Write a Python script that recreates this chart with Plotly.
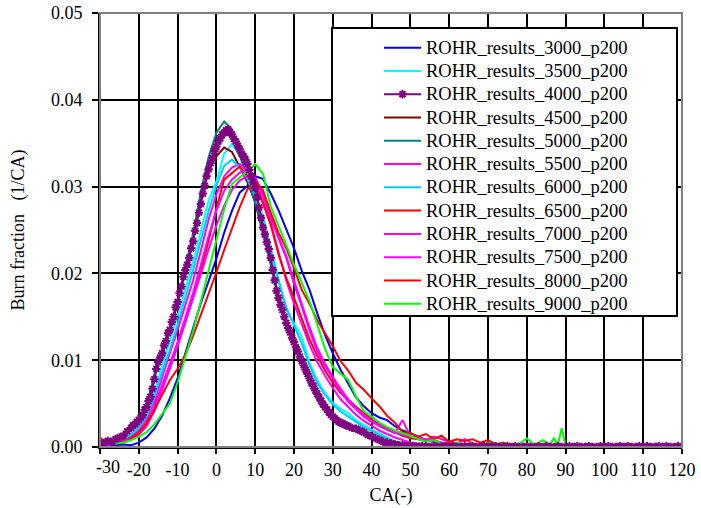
import plotly.graph_objects as go

# Shared crank-angle grid for most series (main region + tail)
CA = [-30, -28, -26, -24, -22, -20, -18, -16, -14, -12, -10, -8, -6, -4, -2,
      0, 2, 4, 6, 8, 10, 12, 14, 16, 18, 20, 22, 24, 26, 28, 30, 32, 34, 36,
      38, 40, 42, 44, 46, 48, 50, 52, 54, 56, 58, 60, 62, 64, 66, 68, 70,
      72, 74, 76, 78, 80, 82, 84, 86, 87, 88, 89, 90, 100, 110, 120]

TAIL0 = [0.0001, 0, 0, 0, 0, 0, 0, 0, 0, 0, 0, 0, 0, 0, 0]

r3000 = [0.0002, 0.0003, 0.0002, 0.0003, 0.0002, 0.0005, 0.0011, 0.0021, 0.0036, 0.0056,
         0.0079, 0.0108, 0.0139, 0.0166, 0.0191, 0.0217, 0.0247, 0.0272, 0.0293, 0.0301,
         0.0312, 0.0309, 0.0292, 0.0273, 0.0251, 0.0229, 0.0203, 0.0181, 0.0154, 0.0129,
         0.0108, 0.0089, 0.0073, 0.0057, 0.0047, 0.0039, 0.0034, 0.0031, 0.0024, 0.0019,
         0.0016, 0.0012, 0.0008, 0.0006, 0.0004, 0.0003, 0.0002, 0.0002, 0.0001, 0.0001,
         0.0001] + TAIL0
r3500 = [0.0003, 0.0004, 0.0006, 0.0010, 0.0015, 0.0024, 0.0038, 0.0063, 0.0093, 0.0121,
         0.0151, 0.0182, 0.0213, 0.0249, 0.0284, 0.0306, 0.0338, 0.0349, 0.0336, 0.0318,
         0.0294, 0.0266, 0.0231, 0.0194, 0.0158, 0.0143, 0.0127, 0.0097, 0.0077, 0.0062,
         0.0051, 0.0044, 0.0039, 0.0031, 0.0025, 0.0020, 0.0016, 0.0011, 0.0007, 0.0004,
         0.0003, 0.0002, 0.0002, 0.0001, 0.0001, 0.0001, 0.0001, 0.0, 0.0001, 0.0, 0.0] + TAIL0
r4500 = [0.0004, 0.0006, 0.0009, 0.0013, 0.0020, 0.0029, 0.0044, 0.0082, 0.0106, 0.0134,
         0.0166, 0.0203, 0.0242, 0.0287, 0.0320, 0.0335, 0.0345, 0.0340, 0.0322, 0.0305,
         0.0282, 0.0250, 0.0215, 0.0172, 0.0145, 0.0122, 0.0099, 0.0079, 0.0061, 0.0047,
         0.0036, 0.0029, 0.0024, 0.0020, 0.0016, 0.0012, 0.0008, 0.0005, 0.0003, 0.0002,
         0.0001, 0.0001, 0.0, 0.0, 0.0, 0.0, 0.0, 0.0, 0.0, 0.0, 0.0] + TAIL0
r5000 = [0.0004, 0.0006, 0.0009, 0.0014, 0.0021, 0.0030, 0.0045, 0.0084, 0.0108, 0.0137,
         0.0169, 0.0207, 0.0246, 0.0294, 0.0334, 0.0362, 0.0375, 0.0366, 0.0336, 0.0310,
         0.0281, 0.0246, 0.0210, 0.0168, 0.0140, 0.0118, 0.0096, 0.0076, 0.0058, 0.0045,
         0.0034, 0.0027, 0.0022, 0.0018, 0.0014, 0.0010, 0.0007, 0.0004, 0.0003, 0.0002,
         0.0001, 0.0001, 0.0, 0.0, 0.0, 0.0, 0.0, 0.0, 0.0, 0.0, 0.0] + TAIL0
r5500 = [0.0003, 0.0004, 0.0005, 0.0008, 0.0012, 0.0020, 0.0032, 0.0052, 0.0081, 0.0108,
         0.0135, 0.0163, 0.0192, 0.0226, 0.0262, 0.0291, 0.0312, 0.0322, 0.0326, 0.0318,
         0.0305, 0.0282, 0.0258, 0.0225, 0.0192, 0.0165, 0.0142, 0.0118, 0.0098, 0.0082,
         0.0068, 0.0055, 0.0046, 0.0037, 0.0030, 0.0024, 0.0019, 0.0015, 0.0011, 0.0008,
         0.0005, 0.0004, 0.0003, 0.0002, 0.0002, 0.0001, 0.0001, 0.0, 0.0, 0.0, 0.0] + TAIL0
r6000 = [0.0003, 0.0004, 0.0006, 0.0009, 0.0014, 0.0022, 0.0035, 0.0057, 0.0086, 0.0112,
         0.0141, 0.0172, 0.0204, 0.0238, 0.0272, 0.0301, 0.0324, 0.0331, 0.0322, 0.0309,
         0.0289, 0.0262, 0.0226, 0.0191, 0.0161, 0.0139, 0.0119, 0.0094, 0.0074, 0.0060,
         0.0049, 0.0041, 0.0035, 0.0029, 0.0023, 0.0019, 0.0014, 0.0010, 0.0006, 0.0004,
         0.0003, 0.0002, 0.0001, 0.0001, 0.0, 0.0, 0.0, 0.0, 0.0, 0.0, 0.0] + TAIL0
r6500 = [0.0011, 0.0004, 0.0005, 0.0007, 0.0011, 0.0017, 0.0028, 0.0046, 0.0071, 0.0094,
         0.0118, 0.0144, 0.0172, 0.0202, 0.0238, 0.0275, 0.0308, 0.0316, 0.0323, 0.0312,
         0.0301, 0.0281, 0.0256, 0.0222, 0.0195, 0.0172, 0.0148, 0.0124, 0.0105, 0.0088,
         0.0074, 0.0062, 0.0054, 0.0046, 0.0039, 0.0032, 0.0026, 0.0022, 0.0017, 0.0013,
         0.0010, 0.0009, 0.0007, 0.0008, 0.0005, 0.0004, 0.0003, 0.0002, 0.0002, 0.0001,
         0.0001] + TAIL0
r7000 = [0.0002, 0.0003, 0.0004, 0.0007, 0.0010, 0.0016, 0.0027, 0.0045, 0.0070, 0.0095,
         0.0121, 0.0149, 0.0178, 0.0210, 0.0243, 0.0272, 0.0295, 0.0308, 0.0316, 0.0319,
         0.0311, 0.0291, 0.0265, 0.0241, 0.0218, 0.0188, 0.0162, 0.0134, 0.0110, 0.0093,
         0.0079, 0.0064, 0.0052, 0.0043, 0.0035, 0.0029, 0.0024, 0.0020, 0.0016, 0.0031,
         0.0012, 0.0011, 0.0008, 0.0012, 0.0009, 0.0006, 0.0004, 0.0009, 0.0004, 0.0002,
         0.0001] + TAIL0
r7500 = [0.0002, 0.0003, 0.0004, 0.0006, 0.0009, 0.0014, 0.0024, 0.0041, 0.0065, 0.0090,
         0.0116, 0.0143, 0.0170, 0.0199, 0.0228, 0.0255, 0.0278, 0.0296, 0.0307, 0.0312,
         0.0306, 0.0289, 0.0263, 0.0242, 0.0220, 0.0192, 0.0165, 0.0138, 0.0114, 0.0096,
         0.0081, 0.0067, 0.0055, 0.0045, 0.0037, 0.0030, 0.0025, 0.0020, 0.0017, 0.0014,
         0.0012, 0.0010, 0.0009, 0.0007, 0.0005, 0.0004, 0.0003, 0.0002, 0.0002, 0.0001,
         0.0001] + TAIL0
r8000 = [0.0004, 0.0005, 0.0004, 0.0005, 0.0009, 0.0016, 0.0027, 0.0042, 0.0060, 0.0077,
         0.0090, 0.0106, 0.0128, 0.0152, 0.0177, 0.0201, 0.0227, 0.0251, 0.0276, 0.0297,
         0.0306, 0.0296, 0.0270, 0.0247, 0.0229, 0.0206, 0.0181, 0.0165, 0.0146, 0.0131,
         0.0116, 0.0099, 0.0088, 0.0074, 0.0066, 0.0056, 0.0047, 0.0036, 0.0028, 0.0017,
         0.0016, 0.0012, 0.0015, 0.0009, 0.0013, 0.0006, 0.0009, 0.0007, 0.0009, 0.0005,
         0.0008,
         0.0003, 0.0005, 0.0001, 0.0, 0.0, 0.0, 0.0, 0.0, 0.0, 0.0, 0.0, 0.0, 0.0, 0.0, 0.0]
r9000 = [0.0005, 0.0006, 0.0004, 0.0005, 0.0008, 0.0012, 0.0017, 0.0026, 0.0038, 0.0050,
         0.0074, 0.0103, 0.0134, 0.0168, 0.0204, 0.0240, 0.0274, 0.0303, 0.0310, 0.0318,
         0.0326, 0.0315, 0.0277, 0.0256, 0.0233, 0.0210, 0.0190, 0.0168, 0.0141, 0.0113,
         0.0092, 0.0085, 0.0077, 0.0058, 0.0041, 0.0035, 0.0028, 0.0023, 0.0019, 0.0016,
         0.0013, 0.0009, 0.0006, 0.0008, 0.0004, 0.0003, 0.0005, 0.0003, 0.0004, 0.0002,
         0.0005,
         0.0002, 0.0004, 0.0002, 0.0003, 0.0010, 0.0002, 0.0008, 0.0003, 0.0010, 0.0002,
         0.0022, 0.0001, 0.0, 0.0, 0.0]

# 4000 rpm series (marker series) is sampled more densely:
# step 1 for -30..-23, step 0.5 for -22..34, step 1 for 35..120
CA_4000 = (list(range(-30, -22))
           + [h / 2 for h in range(-44, 69)]
           + list(range(35, 121)))
r4000 = [0.0005, 0.0004, 0.0007, 0.0006, 0.0009, 0.0011, 0.0013, 0.0018,
         0.0022, 0.0025, 0.0026, 0.0029, 0.0031, 0.0034, 0.0037, 0.0043, 0.0046, 0.0053,
         0.0058, 0.0067, 0.0078, 0.0090, 0.0098, 0.0103, 0.0108, 0.0117, 0.0122, 0.0131,
         0.0135, 0.0144, 0.0150, 0.0161, 0.0167, 0.0177, 0.0185, 0.0196, 0.0204, 0.0210,
         0.0218, 0.0229, 0.0237, 0.0249, 0.0258, 0.0270, 0.0280, 0.0292, 0.0301, 0.0312,
         0.0320, 0.0327, 0.0333, 0.0341, 0.0346, 0.0352, 0.0356, 0.0360, 0.0362, 0.0365,
         0.0366, 0.0362, 0.0360, 0.0355, 0.0352, 0.0347, 0.0343, 0.0338, 0.0335, 0.0331,
         0.0326, 0.0319, 0.0312, 0.0305, 0.0298, 0.0288, 0.0276, 0.0264, 0.0253, 0.0245,
         0.0236, 0.0228, 0.0218, 0.0204, 0.0192, 0.0180, 0.0172, 0.0164, 0.0158, 0.0150,
         0.0143, 0.0137, 0.0132, 0.0126, 0.0121, 0.0115, 0.0110, 0.0104, 0.0099, 0.0094,
         0.0089, 0.0084, 0.0079, 0.0074, 0.0070, 0.0065, 0.0061, 0.0057, 0.0053, 0.0049,
         0.0046, 0.0043, 0.0040, 0.0037, 0.0035, 0.0033, 0.0031, 0.0029, 0.0028, 0.0027,
         0.0026, 0.0025, 0.0024,
         0.0022, 0.0021, 0.0019, 0.0017, 0.0014, 0.0012, 0.0010, 0.0008, 0.0006, 0.0005,
         0.0004, 0.0003, 0.0002, 0.0002, 0.0001,
         0.0001, 0.0001, 0.0, 0.0001, 0.0001, 0.0, 0.0001, 0.0, 0.0001, 0.0001,
         0.0, 0.0001, 0.0, 0.0, 0.0001, 0.0, 0.0001, 0.0, 0.0, 0.0001,
         0.0, 0.0001, 0.0001, 0.0, 0.0, 0.0001, 0.0, 0.0001, 0.0, 0.0,
         0.0001, 0.0, 0.0, 0.0001, 0.0, 0.0001, 0.0, 0.0, 0.0001, 0.0,
         0.0, 0.0001, 0.0, 0.0001, 0.0, 0.0, 0.0001, 0.0, 0.0, 0.0001,
         0.0, 0.0001, 0.0, 0.0, 0.0001, 0.0, 0.0001, 0.0, 0.0, 0.0001,
         0.0, 0.0001, 0.0, 0.0, 0.0001, 0.0, 0.0001, 0.0, 0.0, 0.0001, 0.0]

NAMES = ["ROHR_results_3000_p200", "ROHR_results_3500_p200", "ROHR_results_4000_p200",
         "ROHR_results_4500_p200", "ROHR_results_5000_p200", "ROHR_results_5500_p200",
         "ROHR_results_6000_p200", "ROHR_results_6500_p200", "ROHR_results_7000_p200",
         "ROHR_results_7500_p200", "ROHR_results_8000_p200", "ROHR_results_9000_p200"]
SERIES = [r3000, r3500, r4000, r4500, r5000, r5500, r6000, r6500, r7000, r7500, r8000, r9000]
COLORS = ["#0000FF", "#00FFFF", "#800080", "#800000", "#008080", "#FF00FF",
          "#00CCFF", "#FF0000", "#FF00FF", "#FF00FF", "#FF0000", "#00FF00"]

X_TICKS = [-30, -20, -10, 0, 10, 20, 30, 40, 50, 60, 70, 80, 90, 100, 110, 120]
Y_TICKS = [0.0, 0.01, 0.02, 0.03, 0.04, 0.05]

FONT = "Liberation Serif"

fig = go.Figure()
order = [i for i in range(12) if i != 2] + [2]
for i in order:
    label = '<span style="font-size:18.5px">' + NAMES[i] + '</span>'
    if i == 2:
        fig.add_trace(go.Scatter(
            x=CA_4000, y=SERIES[i], name=label, mode="lines+markers",
            line=dict(color=COLORS[i], width=2),
            marker=dict(symbol="asterisk-open", size=7,
                        line=dict(color=COLORS[i], width=2)),
            legendrank=i * 10))
    else:
        fig.add_trace(go.Scatter(
            x=CA, y=SERIES[i], name=label, mode="lines",
            line=dict(color=COLORS[i], width=2),
            legendrank=i * 10))

# body margin is removed by a post script, so the figure fills the window
L, R, T, B = 100, 19, 13, 61
W, H = 701, 508
pw, ph = W - L - R, H - T - B

def px_x(p):   # window pixel -> paper x
    return (p - L) / pw

def px_y(p):   # window pixel -> paper y
    return 1 - (p - T) / ph

# legend frame
fig.add_shape(type="rect", xref="paper", yref="paper",
              x0=px_x(332), x1=px_x(677), y0=px_y(316), y1=px_y(28),
              fillcolor="white", line=dict(color="black", width=2), layer="above")
# gray plot-area border (top / right)
fig.add_shape(type="rect", xref="paper", yref="paper", x0=0, x1=1, y0=0, y1=1,
              fillcolor="rgba(0,0,0,0)", line=dict(color="#808080", width=2), layer="above")

# the first x tick label sits slightly right of its tick
fig.add_annotation(x=-30, y=0, xref="x", yref="paper", text="-30", showarrow=False,
                   xanchor="center", yanchor="top", xshift=8, yshift=-8,
                   font=dict(family=FONT, size=18, color="black"))

fig.update_layout(
    width=W, height=H,
    margin=dict(l=L, r=R, t=T, b=B, autoexpand=False),
    paper_bgcolor="white", plot_bgcolor="white",
    font=dict(family=FONT, size=18, color="black"),
    showlegend=True,
    legend=dict(x=px_x(379), y=px_y(31), xanchor="left", yanchor="top",
                bgcolor="rgba(0,0,0,0)", borderwidth=0, itemwidth=37,
                font=dict(family=FONT, size=15.6, color="black"),
                tracegroupgap=0),
    xaxis=dict(range=[-30, 120], tickvals=X_TICKS,
               ticktext=["" if v == -30 else str(v) for v in X_TICKS],
               showgrid=True, gridcolor="black", gridwidth=2,
               showline=True, linecolor="black", linewidth=2,
               ticks="outside", ticklen=5, tickcolor="black", tickwidth=2,
               zeroline=False, automargin=False, ticklabeloverflow="allow",
               title=dict(text="CA(-)", font=dict(family=FONT, size=18), standoff=10)),
    yaxis=dict(range=[0, 0.05], tickvals=Y_TICKS, tickformat=".2f",
               showgrid=True, gridcolor="black", gridwidth=2,
               showline=True, linecolor="black", linewidth=2,
               ticks="outside", ticklen=6, tickcolor="black", tickwidth=2,
               zeroline=False, ticklabelstandoff=6, automargin=False,
               ticklabeloverflow="allow",
               title=dict(text="Burn fraction\u2002 (1/CA)", font=dict(family=FONT, size=18),
                          standoff=22)),
)

fig.write_html("out.html", config={"displayModeBar": False},
               post_script="document.body.style.margin='0px';")
